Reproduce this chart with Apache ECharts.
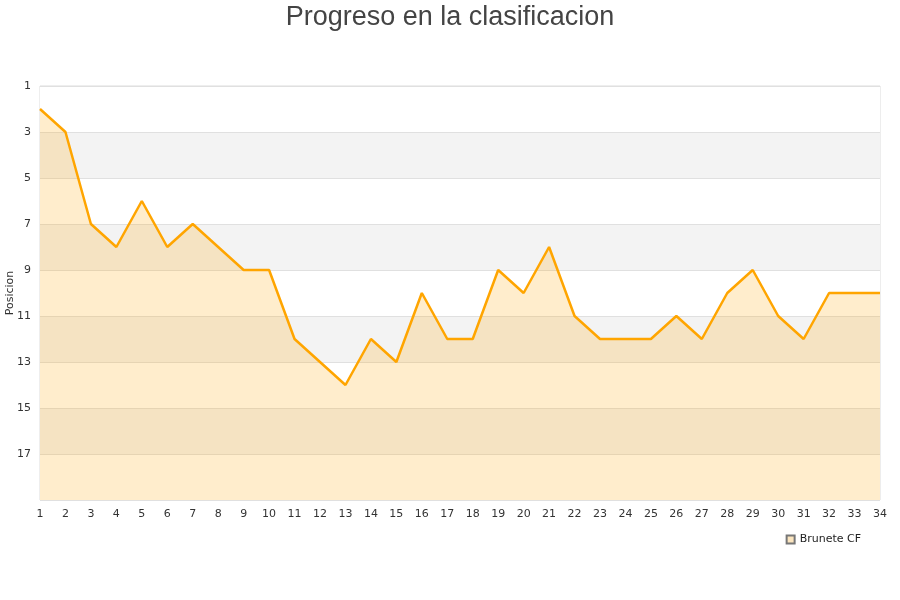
<!DOCTYPE html>
<html>
<head>
<meta charset="utf-8">
<script src="https://cdn.jsdelivr.net/npm/echarts@6/dist/echarts.min.js"></script>
<style>
  html, body { margin: 0; padding: 0; background: #fff; }
  #chart { width: 900px; height: 600px; }
</style>
</head>
<body>
<div id="chart"></div>
<script>
// jornadas y posiciones
var jornadas = [];
for (var i = 1; i <= 34; i++) { jornadas.push(String(i)); }
var posiciones = [2, 3, 7, 8, 6, 8, 7, 8, 9, 9, 12, 13, 14, 12, 13, 10, 12, 12, 9, 10,
                  8, 11, 12, 12, 12, 11, 12, 10, 9, 11, 12, 10, 10, 10];
var equipo = 'Brunete CF';

var e = echarts.init(document.getElementById('chart'));
var option = {
    animation: false,
    title: {
        text: 'Progreso en la clasificacion',
        left: 'center',
        top: -1,
        textStyle: {
            fontFamily: 'Liberation Sans',
            fontSize: 27,
            fontWeight: 'normal',
            color: '#444'
        }
    },
    legend: {
        data: [{ name: equipo, icon: 'rect' }],
        right: 34,
        top: 529,
        itemWidth: 8,
        itemHeight: 8,
        itemGap: 8,
        textStyle: { fontFamily: 'DejaVu Sans', fontSize: 11, color: '#222' }
    },
    grid: {
        left: 40,
        right: 20,
        top: 86,
        bottom: 100,
        outerBoundsMode: 'none',
        containLabel: false,
        show: true,
        borderColor: '#dcdcdc',
        borderWidth: 1
    },
    xAxis: {
        type: 'category',
        data: jornadas,
        boundaryGap: false,
        axisLine: { show: false },
        axisTick: { show: false },
        splitLine: { show: false },
        axisLabel: {
            interval: 0,
            margin: 9,
            fontFamily: 'DejaVu Sans',
            fontSize: 11,
            color: '#333'
        }
    },
    yAxis: {
        type: 'value',
        inverse: true,
        min: 1,
        max: 19,
        interval: 2,
        name: 'Posicion',
        nameLocation: 'middle',
        nameGap: 24,
        nameMoveOverlap: false,
        nameTextStyle: { fontFamily: 'DejaVu Sans', fontSize: 11, color: '#333' },
        axisLine: { show: false },
        axisTick: { show: false },
        axisLabel: {
            showMaxLabel: false,
            margin: 9,
            fontFamily: 'DejaVu Sans',
            fontSize: 11,
            color: '#333'
        },
        splitLine: { show: true, lineStyle: { color: '#e0e0e0' } },
        splitArea: { show: true, areaStyle: { color: ['#ffffff', '#f3f3f3'] } }
    },
    series: [
        {
            name: equipo,
            type: 'line',
            data: posiciones,
            showSymbol: false,
            symbol: 'none',
            lineStyle: { color: '#ffa500', width: 2.5 },
            itemStyle: { color: '#fbe5bf', borderColor: '#777', borderWidth: 1 },
            areaStyle: { color: 'rgba(255,165,0,0.2)', opacity: 1, origin: 'end' }
        }
    ]
};
e.setOption(option);
</script>
</body>
</html>
